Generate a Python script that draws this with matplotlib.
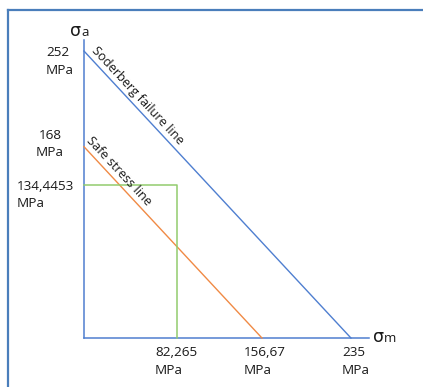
import numpy as np
import matplotlib.pyplot as plt
from matplotlib.lines import Line2D

# Soderberg diagram values (MPa)
fail_a, fail_m = 252, 235          # Soderberg failure line intercepts
safe_a, safe_m = 168, 156.67       # safe stress line intercepts
point_a, point_m = 134.4453, 82.265  # working point

y_values = [fail_a, safe_a, point_a]
y_labels = ['252\nMPa', '168\nMPa', '134,4453\nMPa']
x_values = [point_m, safe_m, fail_m]
x_labels = ['82,265\nMPa', '156,67\nMPa', '235\nMPa']

BLUE = '#4F7FD0'
ORANGE = '#F08A45'
GREEN = '#92CC6E'
FRAME = '#4A7EBB'
TXT = '#1a1a1a'

plt.rcParams['font.family'] = ['Open Sans', 'DejaVu Sans']

fig = plt.figure(figsize=(4.23, 3.87), dpi=100)
ax = fig.add_axes([0, 0, 1, 1])
ax.set_xlim(-73.9, 298.4)
ax.set_ylim(-43.0, 296.8)
ax.axis('off')

# outer frame (left and top edges visible)
fig.add_artist(Line2D([0.019, 0.019], [0, 0.974], color=FRAME, lw=1.6))
fig.add_artist(Line2D([0.019, 1.0], [0.974, 0.974], color=FRAME, lw=1.6))

# axes
y_top = fail_a * 1.038
x_end = fail_m * 1.067
ax.plot([0, 0], [0, y_top], color=BLUE, lw=1.1)
ax.plot([0, x_end], [0, 0], color=BLUE, lw=1.1)

# lines
ax.plot([0, fail_m], [fail_a, 0], color=BLUE, lw=1.0)
ax.plot([0, safe_m], [safe_a, 0], color=ORANGE, lw=1.0)
ax.plot([0, point_m, point_m], [point_a, point_a, 0], color=GREEN, lw=1.1)

# rotated labels along the lines
def line_label(text, a0, m0, along, perp):
    p1 = ax.transData.transform((0, a0))
    p2 = ax.transData.transform((m0, 0))
    ang = np.arctan2(p2[1] - p1[1], p2[0] - p1[0])
    d = np.array([np.cos(ang), np.sin(ang)])
    n = np.array([-np.sin(ang), np.cos(ang)])
    off = along * d + perp * n
    ax.annotate(text, (0, a0), xytext=tuple(off), textcoords='offset pixels',
                rotation=np.degrees(ang), rotation_mode='anchor',
                ha='left', va='baseline', fontsize=9.2, color=TXT)

line_label('Soderberg failure line', fail_a, fail_m, 5, 5)
line_label('Safe stress line', safe_a, safe_m, -3, 5.5)

# tick labels
y_off = [(-38, 5, 'left'), (-34, 18, 'center'), (-67, 5, 'left')]
for v, lab, (dx, dy, ha) in zip(y_values, y_labels, y_off):
    ax.annotate(lab, (0, v), xytext=(dx, dy), textcoords='offset pixels',
                ha=ha, va='top', multialignment=ha, fontsize=9.7,
                linespacing=1.45, color=TXT)

x_off = [-22.5, -18, -9]
for v, lab, dx in zip(x_values, x_labels, x_off):
    ax.annotate(lab, (v, 0), xytext=(dx, -8), textcoords='offset pixels',
                ha='left', va='top', fontsize=9.7, linespacing=1.45,
                color=TXT)

# axis symbols
ax.annotate('σ', (0, y_top), xytext=(-14, 4), textcoords='offset pixels',
            ha='left', va='baseline', fontsize=12.5, family='DejaVu Sans', color=TXT)
ax.annotate('a', (0, y_top), xytext=(-3, 4), textcoords='offset pixels',
            ha='left', va='baseline', fontsize=9.5, color=TXT)
ax.annotate('σ', (x_end, 0), xytext=(4, -4), textcoords='offset pixels',
            ha='left', va='baseline', fontsize=12.5, family='DejaVu Sans', color=TXT)
ax.annotate('m', (x_end, 0), xytext=(15, -4), textcoords='offset pixels',
            ha='left', va='baseline', fontsize=9.5, color=TXT)

fig.savefig('out.png', dpi=100)
